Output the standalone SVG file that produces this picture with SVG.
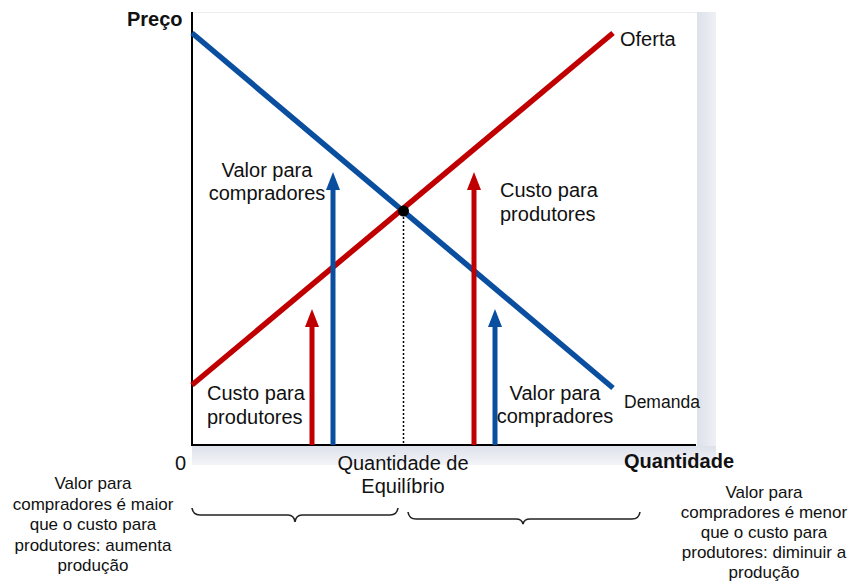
<svg xmlns="http://www.w3.org/2000/svg" width="855" height="584" viewBox="0 0 855 584">
<defs>
<style>
text{font-family:"Liberation Sans",Arial,sans-serif;fill:#111}
.lbl{font-size:20px}
.b{font-weight:bold;font-size:20px}
.dm{font-size:17.5px}
.sm{font-size:17px}
.blue{stroke:#0a4f9f;stroke-width:5.5;fill:none}
.red{stroke:#c00000;stroke-width:5.5;fill:none}
.arrB{stroke:#0a4f9f;stroke-width:5;fill:none}
.arrR{stroke:#c00000;stroke-width:5;fill:none}
.brace{stroke:#222;stroke-width:1.6;fill:none}
</style>
<linearGradient id="shR" x1="0" y1="0" x2="1" y2="0">
<stop offset="0" stop-color="#dde1ea"/><stop offset="1" stop-color="#eef0f5"/>
</linearGradient>
<linearGradient id="shB" x1="0" y1="0" x2="0" y2="1">
<stop offset="0" stop-color="#dde1ea"/><stop offset="1" stop-color="#f3f4f8"/>
</linearGradient>
</defs>
<rect width="855" height="584" fill="#fff"/>
<g id="panel">
<rect x="697" y="12" width="19" height="453" fill="url(#shR)"/>
<rect x="192" y="446" width="524" height="19" fill="url(#shB)"/>
<line x1="192" y1="12.5" x2="697" y2="12.5" stroke="#eceef2" stroke-width="1"/>
</g>
<g id="axes">
<line x1="192" y1="12" x2="192" y2="446" stroke="#000" stroke-width="2"/>
<line x1="191" y1="445" x2="696" y2="445" stroke="#000" stroke-width="2"/>
<text class="b" x="127" y="26">Preço</text>
<text class="b" x="624" y="468">Quantidade</text>
<text class="lbl" x="175" y="470">0</text>
</g>
<g id="connectors">
<line class="blue" x1="192" y1="33" x2="613" y2="388"/>
<line class="red" x1="192" y1="385" x2="613" y2="33"/>
<line x1="403.5" y1="213" x2="403.5" y2="445" stroke="#000" stroke-width="1.5" stroke-dasharray="2,2"/>
<line class="arrR" x1="312" y1="445" x2="312" y2="320"/>
<polygon points="312,309 305,327 319,327" fill="#c00000"/>
<line class="arrB" x1="333" y1="445" x2="333" y2="183"/>
<polygon points="333,172 326,190 340,190" fill="#0a4f9f"/>
<line class="arrR" x1="474" y1="445" x2="474" y2="183"/>
<polygon points="474,172 467,190 481,190" fill="#c00000"/>
<line class="arrB" x1="495" y1="445" x2="495" y2="320"/>
<polygon points="495,309 488,327 502,327" fill="#0a4f9f"/>
</g>
<g id="equilibrium">
<circle cx="403.5" cy="211" r="5.5" fill="#000"/>
</g>
<g id="labels">
<text class="lbl" x="620" y="46">Oferta</text>
<text class="dm" x="624" y="408">Demanda</text>
<text class="lbl" x="267" y="177" text-anchor="middle">Valor para</text>
<text class="lbl" x="267" y="200" text-anchor="middle">compradores</text>
<text class="lbl" x="207" y="400">Custo para</text>
<text class="lbl" x="207" y="424">produtores</text>
<text class="lbl" x="500" y="197">Custo para</text>
<text class="lbl" x="500" y="221">produtores</text>
<text class="lbl" x="555" y="400" text-anchor="middle">Valor para</text>
<text class="lbl" x="555" y="423" text-anchor="middle">compradores</text>
<text class="lbl" x="403" y="470" text-anchor="middle">Quantidade de</text>
<text class="lbl" x="403" y="493" text-anchor="middle">Equilíbrio</text>
</g>
<g id="braces">
<path class="brace" d="M192,508 Q193,515 200,515 L288,515 Q294,515 295,522 Q296,515 302,515 L390,515 Q397,515 398,508"/>
<path class="brace" d="M408,512 Q409,519 416,519 L516,519 Q522,519 523,524 Q524,519 530,519 L632,519 Q639,519 640,512"/>
</g>
<g id="notes">
<text class="sm" x="93" y="489" text-anchor="middle">Valor para</text>
<text class="sm" x="93" y="510" text-anchor="middle">compradores é maior</text>
<text class="sm" x="93" y="530" text-anchor="middle">que o custo para</text>
<text class="sm" x="93" y="551" text-anchor="middle">produtores: aumenta</text>
<text class="sm" x="93" y="571" text-anchor="middle">produção</text>
<text class="sm" x="764" y="498" text-anchor="middle">Valor para</text>
<text class="sm" x="764" y="518" text-anchor="middle">compradores é menor</text>
<text class="sm" x="764" y="538" text-anchor="middle">que o custo para</text>
<text class="sm" x="764" y="558" text-anchor="middle">produtores: diminuir a</text>
<text class="sm" x="764" y="578" text-anchor="middle">produção</text>
</g>
</svg>
